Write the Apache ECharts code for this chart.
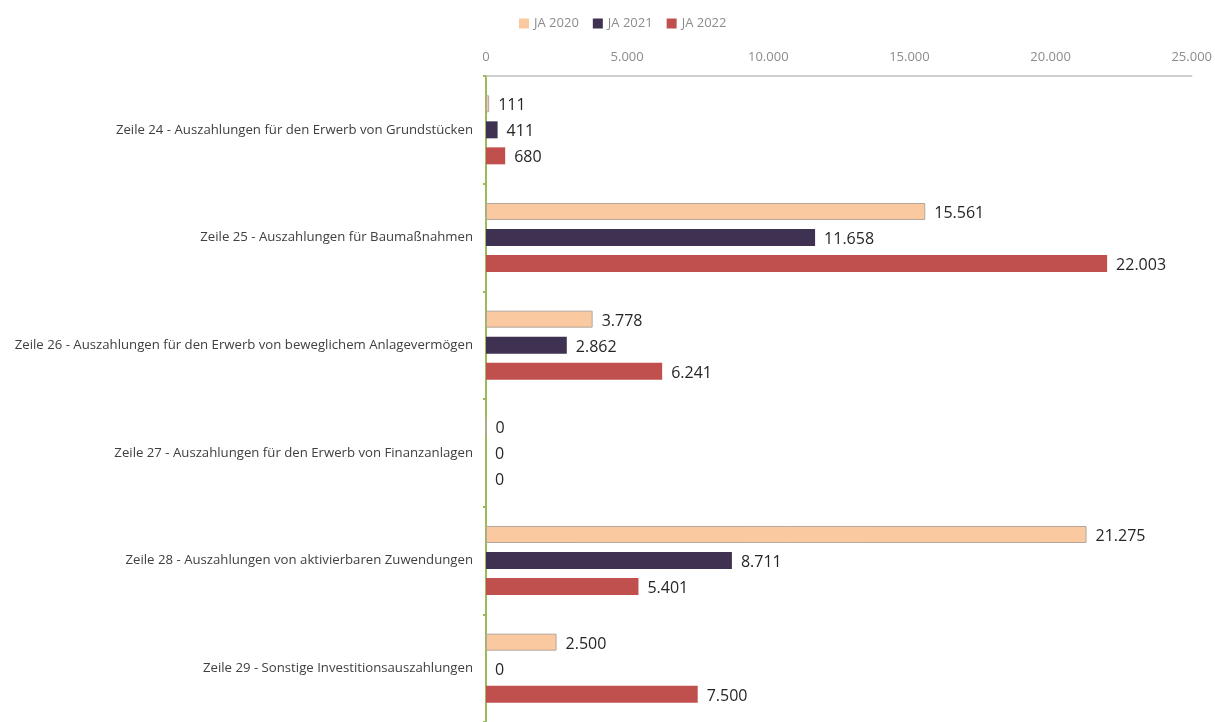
<!DOCTYPE html>
<html>
<head>
<meta charset="utf-8">
<script src="https://cdn.jsdelivr.net/npm/echarts@6/dist/echarts.min.js"></script>
<style>
  html, body { margin: 0; padding: 0; background: #fff; }
  #chart { width: 1215px; height: 722px; }
</style>
</head>
<body>
<div id="chart"></div>
<script>
  const categories = [
    'Zeile 24 - Auszahlungen für den Erwerb von Grundstücken',
    'Zeile 25 - Auszahlungen für Baumaßnahmen',
    'Zeile 26 - Auszahlungen für den Erwerb von beweglichem Anlagevermögen',
    'Zeile 27 - Auszahlungen für den Erwerb von Finanzanlagen',
    'Zeile 28 - Auszahlungen von aktivierbaren Zuwendungen',
    'Zeile 29 - Sonstige Investitionsauszahlungen'
  ]
  const ja2020 = [111, 15561, 3778, 0, 21275, 2500]
  const ja2021 = [411, 11658, 2862, 0, 8711, 0]
  const ja2022 = [680, 22003, 6241, 0, 5401, 7500]

  const fontFamily = 'Open Sans'

  // 12345 -> "12.345"
  function fmt(v) {
    return String(Math.round(v)).replace(/\B(?=(\d{3})+(?!\d))/g, '.')
  }

  const chart = echarts.init(document.getElementById('chart'))

  const barLabel = {
    show: true,
    position: 'right',
    distance: 9,
    offset: [0, 2],
    color: '#262626',
    fontSize: 16,
    fontFamily: fontFamily,
    formatter: p => fmt(p.value)
  }

  function makeSeries(name, data, color, border, bw) {
    return {
      name: name,
      type: 'bar',
      data: data,
      barWidth: 17,
      barGap: '53%',
      barCategoryGap: '36%',
      itemStyle: { color: color, borderColor: border, borderWidth: bw },
      label: barLabel
    }
  }

  chart.setOption({
    animation: false,
    textStyle: { fontFamily: fontFamily },
    legend: {
      top: 12,
      left: 514,
      itemWidth: 10,
      itemHeight: 10,
      itemGap: 14,
      icon: 'rect',
      itemStyle: { borderWidth: 0 },
      textStyle: { color: '#8c8c8c', fontSize: 13, fontFamily: fontFamily },
      data: ['JA 2020', 'JA 2021', 'JA 2022']
    },
    grid: { left: 486, right: 23, top: 76, bottom: 0, containLabel: false },
    xAxis: {
      type: 'value',
      position: 'top',
      min: 0,
      max: 25000,
      interval: 5000,
      axisLine: { show: true, lineStyle: { color: '#bfbfbf', width: 1.5 } },
      axisTick: { show: false },
      splitLine: { show: false },
      axisLabel: {
        color: '#8c8c8c',
        fontSize: 13,
        margin: 12,
        formatter: v => fmt(v)
      }
    },
    yAxis: {
      type: 'category',
      inverse: true,
      data: categories,
      axisLine: { show: true, lineStyle: { color: '#9bbb59', width: 2 } },
      axisTick: { show: true, length: 3, lineStyle: { color: '#9bbb59', width: 2 } },
      axisLabel: { color: '#404040', fontSize: 13.2, margin: 13, padding: [3, 0, 0, 0] }
    },
    series: [
      makeSeries('JA 2020', ja2020, '#fac9a0', '#b3a89e', 1),
      makeSeries('JA 2021', ja2021, '#3f3151', '#3f3151', 0),
      makeSeries('JA 2022', ja2022, '#c0504d', '#c0504d', 0)
    ]
  })
</script>
</body>
</html>
